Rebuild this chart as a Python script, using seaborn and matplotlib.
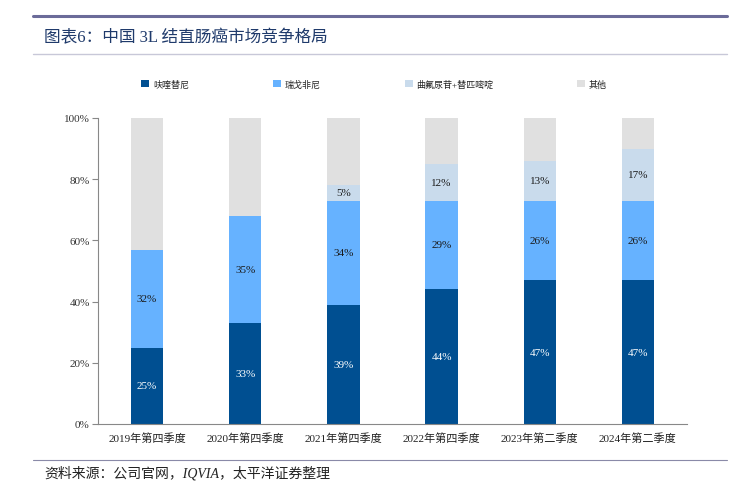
import matplotlib
matplotlib.use('Agg')
import matplotlib.pyplot as plt
from matplotlib.lines import Line2D
from matplotlib.patches import Patch
import seaborn as sns
import pandas as pd
import numpy as np

periods = ['2019年第四季度', '2020年第四季度', '2021年第四季度',
           '2022年第四季度', '2023年第二季度', '2024年第二季度']
fruq = [25, 33, 39, 44, 47, 47]        # 呋喹替尼
rego = [32, 35, 34, 29, 26, 26]        # 瑞戈非尼
tas = [0, 0, 5, 12, 13, 17]            # 曲氟尿苷+替匹嘧啶
other = [43, 32, 22, 15, 14, 10]       # 其他
series_names = ['呋喹替尼', '瑞戈非尼', '曲氟尿苷+替匹嘧啶', '其他']
colors = ['#004f91', '#66b2ff', '#c9dbec', '#e0e0e0']

sns.set_style('white')
plt.rcParams['font.family'] = ['Liberation Serif', 'Noto Sans CJK SC']
plt.rcParams['axes.unicode_minus'] = False

tabela = pd.DataFrame({'periodo': periods, 'a': fruq, 'b': rego, 'c': tas, 'd': other})
c1 = tabela['a']
c2 = c1 + tabela['b']
c3 = c2 + tabela['c']
c4 = c3 + tabela['d']

fig = plt.figure(figsize=(7.39, 4.85), dpi=100)
ax = fig.add_axes([98 / 739, 1 - 425 / 485, 589 / 739, 306 / 485])

# stacked bars drawn from the top layer down
for topo, cor in zip([c4, c3, c2, c1], colors[::-1]):
    sns.barplot(x=tabela['periodo'], y=topo, color=cor, width=0.33,
                saturation=1, ax=ax, linewidth=0)

# value labels
for i in range(len(periods)):
    segs = [(0, c1[i], fruq[i], 'white'),
            (c1[i], c2[i], rego[i], '#1a1a1a'),
            (c2[i], c3[i], tas[i], '#1a1a1a')]
    for base, top, val, tc in segs:
        if val > 0:
            ax.text(i, (base + top) / 2, f'{val}%', ha='center', va='center',
                    fontsize=8, color=tc)

ax.set_ylim(0, 100)
ax.set_xlim(-0.5, len(periods) - 0.5)
ax.set_yticks(np.arange(0, 101, 20))
ax.set_yticklabels([f'{v}%' for v in range(0, 101, 20)], fontsize=8, color='#333333')
ax.set_xticks(range(len(periods)))
ax.set_xticklabels(periods, fontsize=8, color='#222222')
ax.set_xticks(np.arange(-0.5, len(periods), 1), minor=True)
ax.tick_params(axis='x', which='major', length=0, pad=6)
ax.tick_params(axis='x', which='minor', length=4, color='#888888', direction='out')
ax.tick_params(axis='y', length=4, color='#888888', direction='out', left=True, pad=2)
ax.set_xlabel('')
ax.set_ylabel('')
for s in ['top', 'right']:
    ax.spines[s].set_visible(False)
for s in ['left', 'bottom']:
    ax.spines[s].set_color('#888888')
    ax.spines[s].set_linewidth(0.8)

handles = [Patch(facecolor=c, edgecolor='none') for c in colors]
fig.legend(handles, series_names, loc='center left', bbox_to_anchor=(133 / 739, 1 - 85 / 485),
           ncol=4, frameon=False, fontsize=6.5, handlelength=0.9, handleheight=0.9,
           handletextpad=0.4, columnspacing=9.3, labelcolor='#222222')

# header / footer lines and texts
fig.add_artist(Line2D([33 / 739, 727 / 739], [1 - 17 / 485] * 2, color='#6b6b99', lw=2.2))
fig.add_artist(Line2D([33 / 739, 727 / 739], [1 - 55 / 485] * 2, color='#c8c8d8', lw=1))
fig.add_artist(Line2D([33 / 739, 727 / 739], [1 - 461 / 485] * 2, color='#8a8aa8', lw=0.8))
fig.text(44 / 739, 1 - 38 / 485, '图表6：中国 3L 结直肠癌市场竞争格局', fontsize=12,
         color='#1f3a6b', va='center', ha='left')
fig.text(44 / 739, 1 - 473 / 485, '资料来源：公司官网，IQVIA，太平洋证券整理', fontsize=10,
         color='#222222', va='center', ha='left', style='italic')

fig.savefig('out.png', dpi=100)
